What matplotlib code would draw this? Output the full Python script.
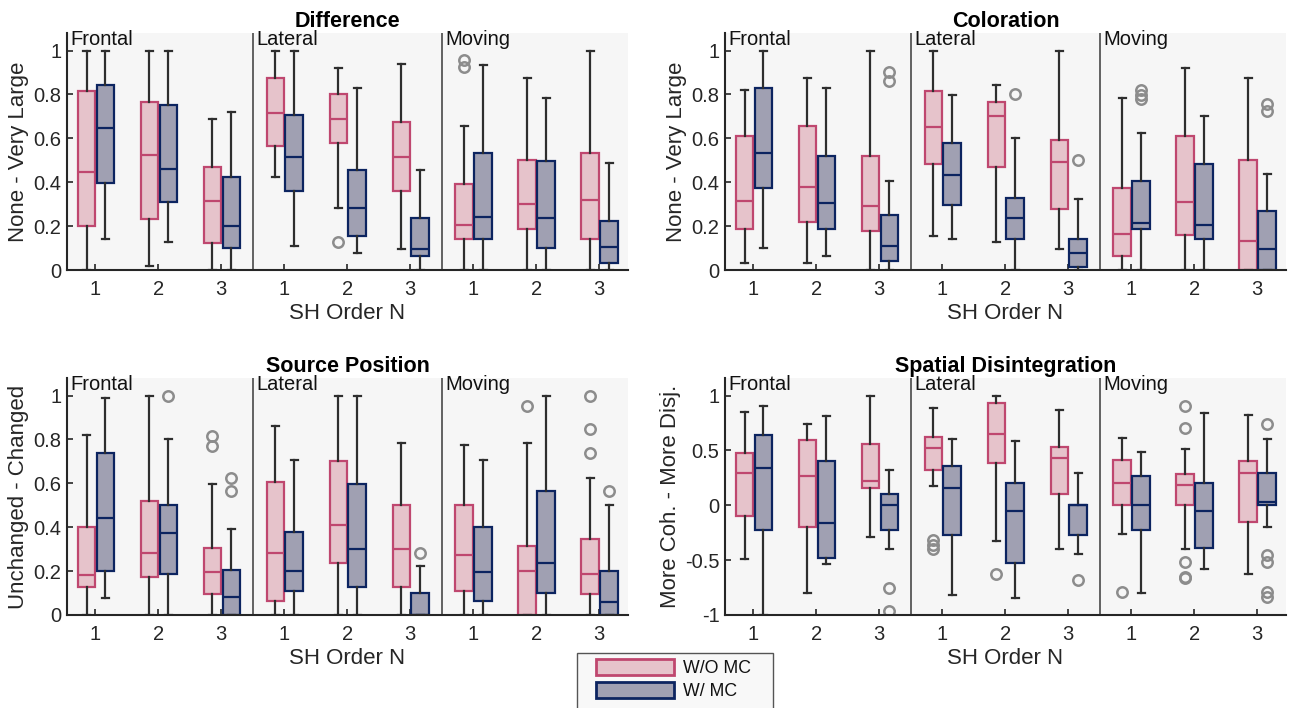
import matplotlib
matplotlib.use('Agg')
import matplotlib.pyplot as plt
from matplotlib.patches import Patch, Rectangle

plt.rcParams['font.family'] = ['Liberation Sans', 'DejaVu Sans']

# ---------------- data ----------------
scenes = ['Frontal', 'Lateral', 'Moving']
order_labels = ['1', '2', '3']
legend_labels = ['W/O MC', 'W/ MC']
# per box: (whisker low, q1, median, q3, whisker high), order: F1 F2 F3 L1 L2 L3 M1 M2 M3
diff_wo = [(0, 0.20, 0.445, 0.816, 1.0), (0.02, 0.233, 0.524, 0.767, 1.0), (0, 0.123, 0.313, 0.471, 0.69),
           (0.422, 0.564, 0.714, 0.875, 1.0), (0.283, 0.578, 0.688, 0.80, 0.922), (0.096, 0.359, 0.514, 0.673, 0.939),
           (0, 0.141, 0.204, 0.394, 0.657), (0, 0.188, 0.30, 0.50, 0.877), (0, 0.141, 0.321, 0.532, 1.0)]
diff_wo_out = [[], [], [], [], [0.126], [], [0.957, 0.924], [], []]
diff_w = [(0.141, 0.398, 0.649, 0.845, 1.0), (0.126, 0.309, 0.462, 0.751, 1.0), (0, 0.099, 0.202, 0.424, 0.72),
          (0.109, 0.359, 0.515, 0.705, 1.0), (0.079, 0.155, 0.281, 0.454, 0.828), (0, 0.062, 0.096, 0.236, 0.454),
          (0, 0.141, 0.242, 0.532, 0.932), (0, 0.10, 0.236, 0.497, 0.783), (0, 0.032, 0.105, 0.222, 0.486)]
diff_w_out = [[], [], [], [], [], [], [], [], []]

col_wo = [(0.030, 0.185, 0.313, 0.611, 0.818), (0.030, 0.217, 0.377, 0.657, 0.875), (0, 0.179, 0.29, 0.518, 1.0),
          (0.157, 0.483, 0.65, 0.815, 1.0), (0.126, 0.468, 0.70, 0.767, 0.845), (0.096, 0.28, 0.492, 0.594, 1.0),
          (0, 0.062, 0.164, 0.375, 0.783), (0, 0.158, 0.309, 0.611, 0.922), (0, 0, 0.132, 0.50, 0.875)]
col_wo_out = [[], [], [], [], [], [], [], [], []]
col_w = [(0.10, 0.374, 0.532, 0.828, 1.0), (0.062, 0.185, 0.307, 0.518, 0.828), (0, 0.040, 0.109, 0.251, 0.407),
         (0.141, 0.296, 0.432, 0.579, 0.798), (0, 0.141, 0.239, 0.328, 0.603), (0, 0.015, 0.079, 0.141, 0.324),
         (0, 0.188, 0.213, 0.407, 0.626), (0, 0.141, 0.204, 0.482, 0.704), (0, 0, 0.096, 0.267, 0.439)]
col_w_out = [[], [], [0.904, 0.862], [], [0.80], [0.50], [0.818, 0.797, 0.78], [], [0.755, 0.723]]

pos_wo = [(0, 0.126, 0.182, 0.401, 0.818), (0, 0.173, 0.281, 0.52, 1.0), (0, 0.096, 0.196, 0.304, 0.597),
          (0, 0.064, 0.281, 0.605, 0.863), (0, 0.236, 0.409, 0.702, 1.0), (0, 0.126, 0.301, 0.50, 0.783),
          (0, 0.111, 0.275, 0.50, 0.775), (0, 0, 0.202, 0.315, 0.783), (0, 0.096, 0.188, 0.347, 0.626)]
pos_wo_out = [[], [], [0.816, 0.769], [], [], [], [], [0.954], [1.0, 0.846, 0.737]]
pos_w = [(0.079, 0.20, 0.441, 0.737, 0.988), (0, 0.188, 0.372, 0.50, 0.80), (0, 0, 0.082, 0.204, 0.394),
         (0, 0.109, 0.202, 0.377, 0.705), (0, 0.126, 0.301, 0.597, 1.0), (0, 0, 0, 0.102, 0.222),
         (0, 0.064, 0.196, 0.401, 0.705), (0, 0.102, 0.236, 0.565, 1.0), (0, 0, 0.058, 0.202, 0.50)]
pos_w_out = [[], [1.0], [0.626, 0.564], [], [], [0.281], [], [], [0.564]]

spa_wo = [(-0.492, -0.094, 0.298, 0.474, 0.854), (-0.802, -0.198, 0.267, 0.593, 0.739), (-0.286, 0.155, 0.222, 0.559, 1.0),
          (0.176, 0.322, 0.526, 0.623, 0.888), (-0.328, 0.383, 0.650, 0.930, 1.0), (-0.401, 0.10, 0.435, 0.535, 0.869),
          (-0.258, 0.003, 0.207, 0.413, 0.617), (-0.401, 0.0, 0.185, 0.286, 0.514), (-0.626, -0.149, 0.295, 0.404, 0.827)]
spa_wo_out = [[], [], [], [-0.32, -0.36, -0.40], [-0.626], [], [-0.787], [0.903, 0.708, -0.52, -0.65, -0.666], []]
spa_w = [(-1.0, -0.228, 0.343, 0.638, 0.903), (-0.538, -0.477, -0.164, 0.404, 0.815), (-0.401, -0.228, 0.003, 0.103, 0.322),
         (-0.815, -0.274, 0.161, 0.359, 0.602), (-0.848, -0.529, -0.049, 0.207, 0.587), (-0.447, -0.274, 0.0, 0.003, 0.295),
         (-0.802, -0.228, 0.0, 0.264, 0.483), (-0.581, -0.389, -0.055, 0.207, 0.842), (-0.198, 0.0, 0.03, 0.295, 0.602)]
spa_w_out = [[], [], [-0.754, -0.964], [], [], [-0.684], [], [], [0.739, -0.453, -0.52, -0.787, -0.833]]

yticks_01 = [0, 0.2, 0.4, 0.6, 0.8, 1]
yticklabels_01 = ['0', '0.2', '0.4', '0.6', '0.8', '1']
yticks_pm = [-1, -0.5, 0, 0.5, 1]
yticklabels_pm = ['-1', '-0.5', '0', '0.5', '1']

# ---------------- style ----------------
PINK_EDGE = '#BF476F'
PINK_FILL = '#E6C3CB'
BLUE_EDGE = '#0C2460'
BLUE_FILL = '#A0A0B2'
WHISK = '#2E2E2E'
OUTL = '#8C8C8C'
BG = '#F6F6F6'
TXT = '#262626'

W, H = 1291, 708
fig = plt.figure(figsize=(W / 100, H / 100), dpi=100)


def rect(l, t, r, b):
    return [l / W, 1 - b / H, (r - l) / W, (b - t) / H]


def make_stats(vals, outs):
    st = []
    for (lo, q1, med, q3, hi), o in zip(vals, outs):
        st.append(dict(whislo=lo, q1=q1, med=med, q3=q3, whishi=hi, fliers=o))
    return st


def panel(ax, title, ylabel, wo, wo_out, w, w_out, yticks, yticklabels, ylo, yhi):
    ax.set_facecolor(BG)
    base = list(range(1, 10))
    for stats, outs, off, ec, fc in [(wo, wo_out, -0.14, PINK_EDGE, PINK_FILL),
                                     (w, w_out, 0.16, BLUE_EDGE, BLUE_FILL)]:
        ax.bxp(make_stats(stats, outs), positions=[b + off for b in base], widths=0.28,
               capwidths=0.11, patch_artist=True, showfliers=True,
               boxprops=dict(facecolor=fc, edgecolor=ec, linewidth=1.6),
               medianprops=dict(color=ec, linewidth=1.6),
               whiskerprops=dict(color=WHISK, linewidth=1.6),
               capprops=dict(color=WHISK, linewidth=1.6),
               flierprops=dict(marker='o', markerfacecolor='none', markeredgecolor=OUTL,
                               markersize=7.5, markeredgewidth=1.8))
    for s in (3.5, 6.5):
        ax.axvline(s, color='#3A3A3A', lw=1.1, zorder=0.5)
    ax.set_xlim(0.55, 9.46)
    ax.set_ylim(ylo, yhi + 0.08 * (yhi - ylo))
    ax.set_xticks(base)
    ax.set_xticklabels(order_labels * 3)
    ax.set_yticks(yticks)
    ax.set_yticklabels(yticklabels)
    ax.tick_params(axis='both', direction='in', length=4, width=1.2, color=TXT,
                   labelsize=14.5, labelcolor=TXT)
    ax.tick_params(axis='x', pad=7)
    ax.tick_params(axis='y', pad=4)
    for sp in ('top', 'right'):
        ax.spines[sp].set_visible(False)
    for sp in ('left', 'bottom'):
        ax.spines[sp].set_color(TXT)
        ax.spines[sp].set_linewidth(1.5)
    ax.set_title(title, fontsize=15.5, fontweight='bold', pad=4)
    ax.set_xlabel('SH Order N', fontsize=16, color=TXT, labelpad=3)
    ax.set_ylabel(ylabel, fontsize=16, color=TXT, labelpad=3)
    for x, name in zip((0.6, 3.56, 6.56), scenes):
        ax.text(x, 1.012, name, transform=ax.get_xaxis_transform(), ha='left', va='top',
                fontsize=14.5, color='#111111')


ax1 = fig.add_axes(rect(67, 33, 628, 270))
ax2 = fig.add_axes(rect(725, 33, 1286, 270))
ax3 = fig.add_axes(rect(67, 378, 628, 615))
ax4 = fig.add_axes(rect(725, 378, 1286, 615))

panel(ax1, 'Difference', 'None - Very Large', diff_wo, diff_wo_out, diff_w, diff_w_out,
      yticks_01, yticklabels_01, 0, 1)
panel(ax2, 'Coloration', 'None - Very Large', col_wo, col_wo_out, col_w, col_w_out,
      yticks_01, yticklabels_01, 0, 1)
panel(ax3, 'Source Position', 'Unchanged - Changed', pos_wo, pos_wo_out, pos_w, pos_w_out,
      yticks_01, yticklabels_01, 0, 1)
panel(ax4, 'Spatial Disintegration', 'More Coh. - More Disj.', spa_wo, spa_wo_out, spa_w, spa_w_out,
      yticks_pm, yticklabels_pm, -1, 1)

# legend frame (extends past the bottom edge of the figure as in the reference)
frame = Rectangle((577 / W, -0.05), (773 - 577) / W, 0.05 + 1 - 653 / H, transform=fig.transFigure,
                  facecolor='#F8F8F8', edgecolor='#555555', linewidth=1.0, clip_on=False)
fig.patches.append(frame)

handles = [Patch(facecolor=PINK_FILL, edgecolor=PINK_EDGE, linewidth=2, label=legend_labels[0]),
           Patch(facecolor=BLUE_FILL, edgecolor=BLUE_EDGE, linewidth=2, label=legend_labels[1])]
leg = fig.legend(handles=handles, loc='upper left', bbox_to_anchor=(596 / W, 1 - 659 / H),
                 frameon=False, handlelength=4.4, handleheight=1.0, fontsize=12.8, borderpad=0,
                 labelspacing=0.3, handletextpad=0.5, borderaxespad=0)
for t in leg.get_texts():
    t.set_color('#111111')

fig.savefig('out.png', dpi=100)
